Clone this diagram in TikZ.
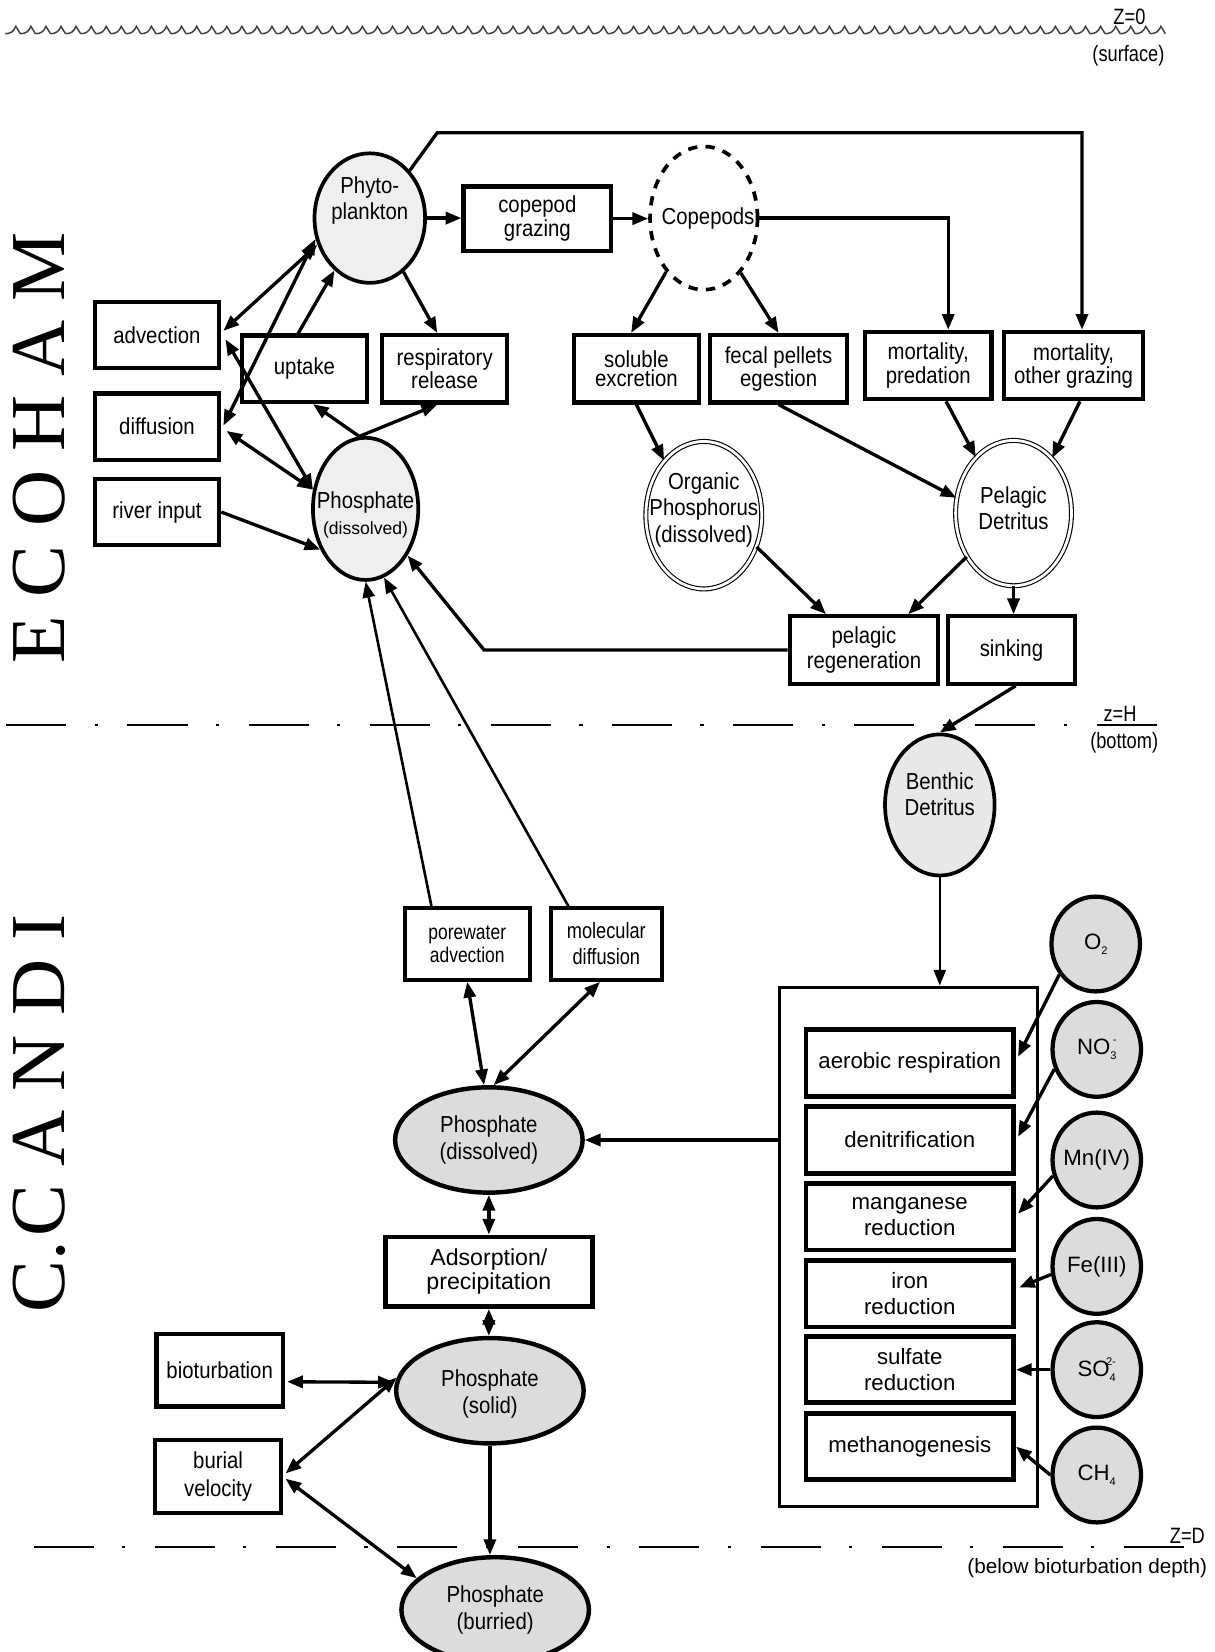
\documentclass[tikz,border=0pt]{standalone}
\usepackage{fontspec}
\setmainfont{Liberation Sans}
\newfontfamily\narrowsans[FakeStretch=0.88]{Liberation Sans}
\newfontfamily\tagsans[FakeStretch=0.82]{Liberation Sans}
\newfontfamily\titleserif{Liberation Serif}
\usepackage{xcolor}
\usepackage{tikz}
\usetikzlibrary{positioning, shapes.geometric, arrows.meta, calc}

\definecolor{paleshade}{HTML}{EFEFEF}
\definecolor{benthshade}{HTML}{E8E8E8}
\definecolor{midshade}{HTML}{DCDCDC}

\newcommand{\titlegap}{\hspace{0.36cm}}
\newcommand{\lowix}[1]{\raisebox{-0.4ex}{\fontsize{6}{6}\selectfont #1}}
\newcommand{\highix}[1]{\raisebox{0.95ex}{\fontsize{6}{6}\selectfont #1}}
\newcommand{\chgix}[2]{\lowix{#1}\llap{\highix{#2}}}

\begin{document}
\begin{tikzpicture}[x=0.02cm, y=-0.02cm,
  box/.style={rectangle, draw, line width=2.3pt, align=center, inner sep=1pt,
    minimum width=2.36cm, minimum height=1.26cm, font=\fontsize{12.5}{13}\narrowsans},
  redbox/.style={rectangle, draw, line width=2.6pt, align=center, inner sep=1pt,
    minimum width=3.94cm, minimum height=1.26cm, font=\fontsize{12}{13.8}\selectfont},
  pool/.style={ellipse, draw, line width=2pt, inner sep=0pt},
  pooltext/.style={align=center, font=\fontsize{12.5}{14.2}\narrowsans},
  ion/.style={ellipse, draw, line width=2.3pt, fill=midshade, inner sep=0pt,
    minimum width=1.68cm, minimum height=1.8cm},
  iontext/.style={font=\fontsize{12}{13}\selectfont},
  flow/.style={line width=1.8pt, -{Triangle[length=8.5pt,width=6.5pt]}},
  twoway/.style={line width=1.8pt, {Triangle[length=8.5pt,width=6.5pt]}-{Triangle[length=8.5pt,width=6.5pt]}},
  level/.style={line width=1pt, dash pattern=on 1.14cm off 0.54cm on 0.06cm off 0.56cm},
  tag/.style={font=\fontsize{12}{13}\tagsans}]
\useasboundingbox (0,0) rectangle (1153,1568);

% Surface and depth levels
\foreach \i [evaluate=\i as \xa using 5+14.3*\i] in {0,...,76}
  \draw[line width=0.8pt, black!75] (\xa,32) .. controls ({\xa+5},32) and ({\xa+8},30) .. ({\xa+10},25) -- ({\xa+14.3},32);
\draw[level] (6,688) -- (1103,688);
\draw[level] (32,1468) -- (1130,1468);
\node[tag] (surf) at (1072,16) {Z=0};
\node[tag] (surfnote) at (1071,53) {(surface)};
\node[tag, anchor=base] (bottom) at (1063,685) {z=H};
\node[tag] (bottomnote) at (1067,705) {(bottom)};
\node[tag, anchor=base] (deep) at (1127,1465) {Z=D};
\node[font=\fontsize{11.2}{12}\selectfont] (deepnote) at (1032,1488) {(below bioturbation depth)};

% Model names
\node[rotate=90, anchor=base, font=\fontsize{42}{42}\titleserif] (ecoham) at (61,425) {E\titlegap C\titlegap O\titlegap H\titlegap A\titlegap M};
\node[rotate=90, anchor=base, font=\fontsize{42}{42}\titleserif] (candi) at (61,1057) {C.\hspace{0.08cm}C\titlegap A\titlegap N\titlegap D\titlegap I};

% ECOHAM: water column
\node[pool, fill=paleshade, minimum width=2.1cm, minimum height=2.46cm,
  label={[pooltext, yshift=0.34cm]center:Phyto-\\plankton}] (phyto) at (351,207) {};
\node[box, minimum width=2.8cm, minimum height=1.22cm, font=\fontsize{12.5}{10.2}\narrowsans] (grazing) at (510,207.5) {copepod\\grazing};
\node[pool, dash pattern=on 5pt off 4.5pt, minimum width=2.04cm, minimum height=2.72cm,
  label={[pooltext, xshift=0.08cm]center:Copepods}] (copepods) at (668,207) {};

\node[box] (advection) at (149,318) {advection};
\node[box] (diffusion) at (149,405) {diffusion};
\node[box] (river) at (149,486) {river input};
\node[box] (uptake) at (289,350) {uptake};
\node[box, minimum width=2.38cm, minimum height=1.28cm, font=\fontsize{12.5}{10}\narrowsans] (resp) at (422,350) {respiratory\\release};
\node[box, minimum width=2.38cm, minimum height=1.28cm, font=\fontsize{12.5}{10.5}\narrowsans] (soluble) at (604,350) {soluble\\excretion};
\node[box, minimum width=2.6cm, minimum height=1.28cm, font=\fontsize{12.5}{10}\narrowsans] (fecal) at (739,350) {fecal pellets\\egestion};
\node[box, minimum width=2.4cm, minimum height=1.28cm, font=\fontsize{12.5}{11.4}\narrowsans] (mortpred) at (881,347) {mortality,\\predation};
\node[box, minimum width=2.64cm, minimum height=1.28cm, font=\fontsize{12.5}{12.5}\narrowsans] (mortother) at (1019,347) {mortality,\\other grazing};

\node[pool, fill=paleshade, minimum width=2cm, minimum height=2.7cm,
  label={[pooltext, yshift=-0.12cm]center:Phosphate\\{\normalfont\fontsize{9.5}{11}\selectfont (dissolved)}}] (po4w) at (347,483) {};
\node[pool, line width=0.6pt, double, double distance=1.5pt, minimum width=2.2cm, minimum height=2.8cm,
  label={[pooltext, yshift=0.1cm]center:Organic\\Phosphorus\\(dissolved)}] (orgp) at (668,489) {};
\node[pool, line width=0.6pt, double, double distance=1.5pt, minimum width=2.2cm, minimum height=2.76cm,
  label={[pooltext, yshift=0.09cm]center:Pelagic\\Detritus}] (peldet) at (962,487) {};
\node[box, minimum width=2.82cm, minimum height=1.28cm, font=\fontsize{12.5}{13.7}\narrowsans] (regen) at (820,617) {pelagic\\regeneration};
\node[box, minimum width=2.4cm, minimum height=1.28cm] (sinking) at (960,617) {sinking};

\draw[flow] (phyto.east) -- (phyto.east -| grazing.west);
\draw[flow] (grazing.east) -- (grazing.east -| copepods.west);
\draw[flow] (phyto.50) -- (415,126) -| ($(mortother.north)+(8,0)$);
\draw[flow] (copepods.east) -| ($(mortpred.north)+(19,0)$);
\draw[flow] (copepods.235) -- ($(soluble.north)+(-5,0)$);
\draw[flow] (copepods.304) -- (fecal.north);
\draw[flow] (phyto.302) -- ($(resp.north)+(-7,0)$);
\draw[flow] ($(uptake.north)+(-6,0)$) -- (phyto.236);
\draw[flow] (po4w.95) -- ($(uptake.south)+(8,0)$);
\draw[flow] (po4w.95) -- ($(resp.south)+(-7,0)$);
\draw[twoway] ($(advection.east)+(2,-4)$) -- (phyto.207);
\draw[twoway] ($(diffusion.east)+(2,-1)$) -- (phyto.201);
\draw[twoway] ($(advection.east)+(4,4)$) -- (po4w.160);
\draw[twoway] ($(diffusion.east)+(5,4)$) -- (po4w.160);
\draw[flow] (river.east) -- (po4w.222);
\draw[flow] (soluble.south) -- (orgp.126);
\draw[flow] (fecal.south) -- (peldet.165);
\draw[flow] ($(mortpred.south)+(17,0)$) -- (peldet.124);
\draw[flow] ($(mortother.south)+(6,0)$) -- (peldet.55);
\draw[flow] (orgp.329) -- ($(regen.north)+(-36,0)$);
\draw[flow] (peldet.223) -- ($(regen.north)+(42,0)$);
\draw[flow] (peldet.south) -- (peldet.south |- sinking.north);
\draw[flow] (regen.west) -- ++(-288,0) -- (po4w.312);

% C.CANDI: sediment
\node[pool, fill=benthshade, minimum width=2.08cm, minimum height=2.68cm,
  label={[pooltext, yshift=0.2cm]center:Benthic\\Detritus}] (benthic) at (892,764) {};
\draw[flow] ($(sinking.south)+(4,0)$) -- (benthic.north);

\node[draw, line width=1.8pt, minimum width=4.9cm, minimum height=9.86cm] (redox) at (862.5,1183.5) {};
\node[redbox] (aerobic) at (863.5,1009) {aerobic respiration};
\node[redbox] (denit) at (863.5,1082) {denitrification};
\node[redbox] (mangan) at (863.5,1155) {manganese\\reduction};
\node[redbox] (iron) at (863.5,1228) {iron\\reduction};
\node[redbox] (sulfate) at (863.5,1300) {sulfate\\reduction};
\node[redbox] (methano) at (863.5,1373) {methanogenesis};

\node[ion, label={[iontext]center:O\lowix{2}}] (oxy) at (1040,896) {};
\node[ion, label={[iontext]center:NO\chgix{3}{-}}] (nitrate) at (1041,996) {};
\node[ion, label={[iontext]center:Mn(IV)}] (mn) at (1041,1101) {};
\node[ion, label={[iontext]center:Fe(III)}] (fe) at (1041,1202) {};
\node[ion, label={[iontext]center:SO\chgix{4}{2-}}] (sulf) at (1041,1300) {};
\node[ion, label={[iontext]center:CH\lowix{4}}] (methane) at (1041,1400) {};

\draw[flow, line width=1.3pt] (benthic.south) -- (benthic.south |- redox.north);
\draw[flow] (oxy.220) -- ($(aerobic.east)+(2,-6)$);
\draw[flow] (nitrate.205) -- ($(denit.east)+(2,-3)$);
\draw[flow] (mn.200) -- ($(mangan.east)+(2,-3)$);
\draw[flow] (fe.190) -- ($(iron.east)+(3,-6)$);
\draw[flow] (sulf.west) -- (sulfate.east);
\draw[flow] (methane.west) -- (methano.east);

\node[pool, line width=2.4pt, fill=midshade, minimum width=3.56cm, minimum height=2cm,
  label={[pooltext, font=\fontsize{12.5}{14.8}\narrowsans]center:Phosphate\\(dissolved)}] (po4s) at (464,1082) {};
\node[box, line width=2.2pt, minimum width=2.38cm, minimum height=1.36cm, font=\fontsize{11.5}{12.5}\tagsans] (porewater) at (443.5,896) {porewater\\advection};
\node[box, line width=2.2pt, minimum width=2.1cm, minimum height=1.36cm, font=\fontsize{12}{14}\tagsans] (moldiff) at (575.5,896) {molecular\\diffusion};
\node[box, line width=2.6pt, minimum width=3.92cm, minimum height=1.32cm, font=\fontsize{12.5}{13}\selectfont] (adsorp) at (464,1207) {Adsorption/\\precipitation};
\node[pool, line width=2.4pt, fill=midshade, minimum width=3.56cm, minimum height=2cm,
  label={[pooltext, font=\fontsize{12.5}{14.8}\narrowsans, yshift=-0.06cm]center:Phosphate\\(solid)}] (po4solid) at (465,1320) {};
\node[pool, line width=2.4pt, fill=midshade, minimum width=3.56cm, minimum height=2cm,
  label={[pooltext, font=\fontsize{12.5}{14.8}\narrowsans]center:Phosphate\\(burried)}] (po4bur) at (470,1528) {};
\node[box, minimum width=2.4cm, minimum height=1.38cm] (bioturb) at (208.5,1300.5) {bioturbation};
\node[box, minimum width=2.4cm, minimum height=1.38cm, font=\fontsize{12.5}{14.8}\narrowsans] (burial) at (207,1401.5) {burial\\velocity};

\draw[flow, line width=1.4pt] ($(porewater.north)+(-34,0)$) -- (po4w.south);
\draw[flow, line width=1.4pt] ($(moldiff.north)+(-36,0)$) -- (po4w.285);
\draw[flow] (redox.west |- po4s.east) -- (po4s.east);
\draw[twoway] (porewater.south) -- (po4s.95);
\draw[twoway] ($(moldiff.south)+(-6,0)$) -- (po4s.85);
\draw[twoway] (po4s.south) -- (adsorp.north);
\draw[twoway] (adsorp.south) -- (adsorp.south |- po4solid.north);
\draw[twoway] ($(bioturb.east)+(2,11)$) -- ($(po4solid.west)+(0,-8)$);
\draw[twoway] ($(burial.east)+(2,-3)$) -- (po4solid.172);
\draw[twoway] ($(burial.east)+(2,2)$) -- (po4bur.158);
\draw[flow] (po4solid.south) -- (po4solid.south |- po4bur.north);

\end{tikzpicture}
\end{document}
